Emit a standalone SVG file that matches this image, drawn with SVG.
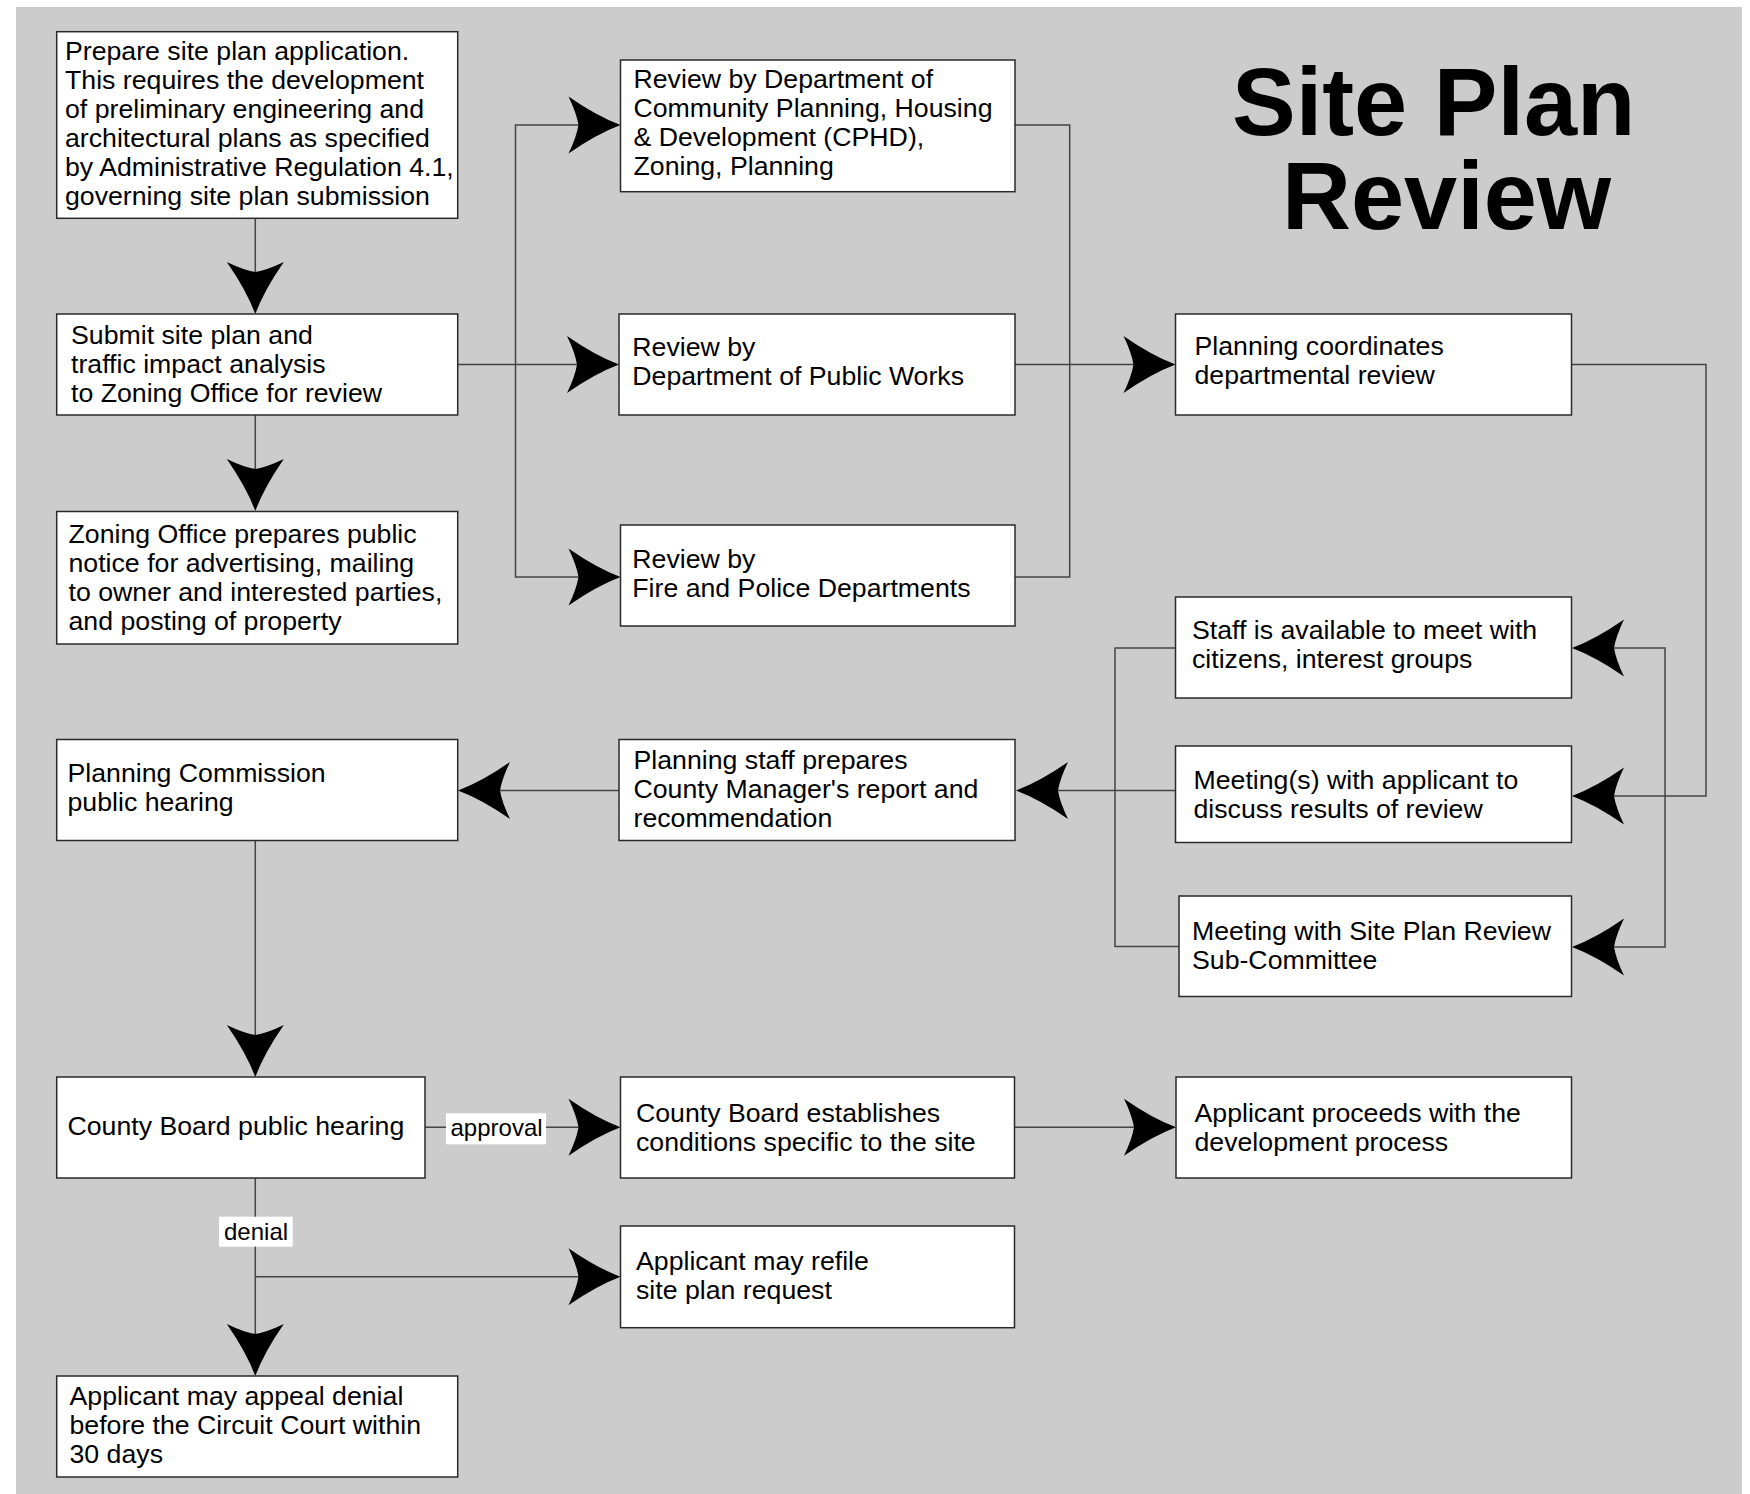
<svg xmlns="http://www.w3.org/2000/svg" xmlns:xlink="http://www.w3.org/1999/xlink" width="1750" height="1494" viewBox="0 0 1750 1494">
<style>
.box{fill:#ffffff;stroke:#2a2a2a;stroke-width:1.5}
.t{font-family:"Liberation Sans",Arial,sans-serif;font-size:26.7px;fill:#000}
.lbl{font-family:"Liberation Sans",Arial,sans-serif;font-size:24px;fill:#000}
.title{font-family:"Liberation Sans",Arial,sans-serif;font-size:95.5px;font-weight:bold;fill:#000}
.c{fill:none;stroke:#444;stroke-width:1.5}
.lblbg{fill:#ffffff}
</style>
<defs>
<path id="ah" d="M0,0 Q-24,-9 -52,-28.5 Q-44,-12 -42,0 Q-44,12 -52,28.5 Q-24,9 0,0Z" fill="#000"/>
</defs>
<rect x="16" y="7" width="1726" height="1487" fill="#cccccc"/>
<g id="title">
<text class="title" x="1232" y="135">Site Plan</text>
<text class="title" x="1282" y="228.5">Review</text>
</g>

<g id="connectors">
<path class="c" d="M255.3,218 V300"/>
<path class="c" d="M255.3,415 V500"/>
<path class="c" d="M457.5,364.5 H605"/>
<path class="c" d="M605,125 H515.5 V577 H605"/>
<path class="c" d="M1015,125 H1069.7 V577 H1015"/>
<path class="c" d="M1015,364.5 H1160"/>
<path class="c" d="M1571.5,364.5 H1706 V796 H1585"/>
<path class="c" d="M1585,648 H1665 V947 H1585"/>
<path class="c" d="M1175.5,648 H1115 V946.5 H1179"/>
<path class="c" d="M1175.5,790.6 H1030"/>
<path class="c" d="M619,790.6 H470"/>
<path class="c" d="M255.3,841 V1065"/>
<path class="c" d="M425,1127.3 H605"/>
<path class="c" d="M1014.5,1127.3 H1162"/>
<path class="c" d="M255.3,1178 V1362"/>
<path class="c" d="M255.3,1276.7 H605"/>
<use xlink:href="#ah" href="#ah" transform="translate(255.3,314) rotate(90)"/>
<use xlink:href="#ah" href="#ah" transform="translate(255.3,511) rotate(90)"/>
<use xlink:href="#ah" href="#ah" transform="translate(620.5,125)"/>
<use xlink:href="#ah" href="#ah" transform="translate(619,364.5)"/>
<use xlink:href="#ah" href="#ah" transform="translate(620.5,577)"/>
<use xlink:href="#ah" href="#ah" transform="translate(1175.5,364.5)"/>
<use xlink:href="#ah" href="#ah" transform="translate(1572,648) rotate(180)"/>
<use xlink:href="#ah" href="#ah" transform="translate(1572,796) rotate(180)"/>
<use xlink:href="#ah" href="#ah" transform="translate(1572,947) rotate(180)"/>
<use xlink:href="#ah" href="#ah" transform="translate(1016,790.6) rotate(180)"/>
<use xlink:href="#ah" href="#ah" transform="translate(458,790.6) rotate(180)"/>
<use xlink:href="#ah" href="#ah" transform="translate(255.3,1077) rotate(90)"/>
<use xlink:href="#ah" href="#ah" transform="translate(620.5,1127.3)"/>
<use xlink:href="#ah" href="#ah" transform="translate(1176,1127.3)"/>
<use xlink:href="#ah" href="#ah" transform="translate(620.5,1276.7)"/>
<use xlink:href="#ah" href="#ah" transform="translate(255.3,1376) rotate(90)"/>
<g id="label-approval">
<rect class="lblbg" x="446" y="1113.3" width="100" height="31"/>
<text class="lbl" x="450.5" y="1135.5">approval</text>
</g>
<g id="label-denial">
<rect class="lblbg" x="219" y="1216.7" width="73.7" height="30"/>
<text class="lbl" x="224" y="1239.5">denial</text>
</g>
</g>

<g id="n-prepare">
<rect class="box" x="56.7" y="31.7" width="401" height="186.6"/>
<text class="t" x="65"><tspan x="65" y="60">Prepare site plan application.</tspan><tspan x="65" y="89">This requires the development</tspan><tspan x="65" y="118">of preliminary engineering and</tspan><tspan x="65" y="147">architectural plans as specified</tspan><tspan x="65" y="176">by Administrative Regulation 4.1,</tspan><tspan x="65" y="205">governing site plan submission</tspan></text>
</g>
<g id="n-submit">
<rect class="box" x="56.7" y="314" width="401" height="101"/>
<text class="t"><tspan x="71" y="344">Submit site plan and</tspan><tspan x="71" y="373">traffic impact analysis</tspan><tspan x="71" y="402">to Zoning Office for review</tspan></text>
</g>
<g id="n-zoning">
<rect class="box" x="56.7" y="511.5" width="401" height="132.5"/>
<text class="t"><tspan x="68.5" y="543">Zoning Office prepares public</tspan><tspan x="68.5" y="572">notice for advertising, mailing</tspan><tspan x="68.5" y="601">to owner and interested parties,</tspan><tspan x="68.5" y="630">and posting of property</tspan></text>
</g>
<g id="n-commission">
<rect class="box" x="56.7" y="739.5" width="401" height="101"/>
<text class="t"><tspan x="67.5" y="782">Planning Commission</tspan><tspan x="67.5" y="811">public hearing</tspan></text>
</g>
<g id="n-board">
<rect class="box" x="56.7" y="1077" width="368.3" height="101"/>
<text class="t" x="67.5" y="1135">County Board public hearing</text>
</g>
<g id="n-appeal">
<rect class="box" x="56.7" y="1376" width="401" height="101"/>
<text class="t"><tspan x="69.5" y="1405">Applicant may appeal denial</tspan><tspan x="69.5" y="1434">before the Circuit Court within</tspan><tspan x="69.5" y="1463">30 days</tspan></text>
</g>
<g id="n-cphd">
<rect class="box" x="620.5" y="60" width="394.5" height="131.7"/>
<text class="t"><tspan x="633.5" y="88">Review by Department of</tspan><tspan x="633.5" y="117">Community Planning, Housing</tspan><tspan x="633.5" y="146">&amp; Development (CPHD),</tspan><tspan x="633.5" y="175">Zoning, Planning</tspan></text>
</g>
<g id="n-publicworks">
<rect class="box" x="619" y="314" width="396" height="101"/>
<text class="t"><tspan x="632.3" y="356">Review by</tspan><tspan x="632.3" y="385">Department of Public Works</tspan></text>
</g>
<g id="n-firepolice">
<rect class="box" x="620.5" y="525" width="394.5" height="101"/>
<text class="t"><tspan x="632.3" y="568">Review by</tspan><tspan x="632.3" y="597">Fire and Police Departments</tspan></text>
</g>
<g id="n-staffprepares">
<rect class="box" x="619" y="739.5" width="396" height="101"/>
<text class="t"><tspan x="633.5" y="769">Planning staff prepares</tspan><tspan x="633.5" y="798">County Manager's report and</tspan><tspan x="633.5" y="827">recommendation</tspan></text>
</g>
<g id="n-establishes">
<rect class="box" x="620.5" y="1077" width="394" height="101"/>
<text class="t"><tspan x="636" y="1122">County Board establishes</tspan><tspan x="636" y="1151">conditions specific to the site</tspan></text>
</g>
<g id="n-refile">
<rect class="box" x="620.5" y="1226" width="394" height="101.7"/>
<text class="t"><tspan x="636" y="1270">Applicant may refile</tspan><tspan x="636" y="1299">site plan request</tspan></text>
</g>
<g id="n-coordinates">
<rect class="box" x="1175.5" y="314" width="396" height="101"/>
<text class="t"><tspan x="1194.5" y="355">Planning coordinates</tspan><tspan x="1194.5" y="384">departmental review</tspan></text>
</g>
<g id="n-staffavailable">
<rect class="box" x="1175.5" y="597" width="396" height="101"/>
<text class="t"><tspan x="1192" y="639">Staff is available to meet with</tspan><tspan x="1192" y="668">citizens, interest groups</tspan></text>
</g>
<g id="n-meetings">
<rect class="box" x="1175.5" y="746" width="396" height="96.5"/>
<text class="t"><tspan x="1193.5" y="789">Meeting(s) with applicant to</tspan><tspan x="1193.5" y="818">discuss results of review</tspan></text>
</g>
<g id="n-subcommittee">
<rect class="box" x="1179" y="896" width="392.5" height="100.5"/>
<text class="t"><tspan x="1192" y="940">Meeting with Site Plan Review</tspan><tspan x="1192" y="969">Sub-Committee</tspan></text>
</g>
<g id="n-proceeds">
<rect class="box" x="1176" y="1077" width="395.5" height="101"/>
<text class="t"><tspan x="1194.5" y="1122">Applicant proceeds with the</tspan><tspan x="1194.5" y="1151">development process</tspan></text>
</g>
</svg>
